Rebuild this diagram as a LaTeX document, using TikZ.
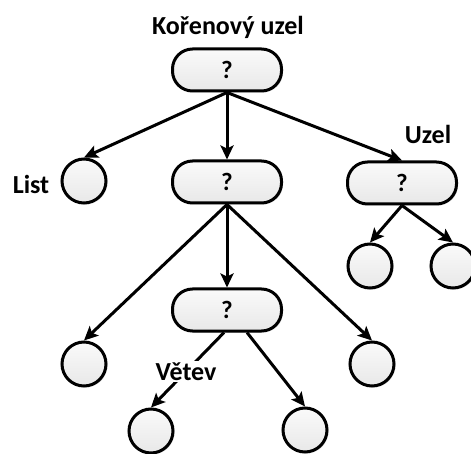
\documentclass[tikz,border=0pt]{standalone}
\usepackage{fontspec}
\setmainfont{Carlito}
\usetikzlibrary{arrows.meta,shadows}
\begin{document}
\begin{tikzpicture}[x=1pt,y=-1pt,
  qnode/.style={draw, line width=3pt, rectangle, rounded corners=20pt,
    minimum width=109pt, minimum height=42pt, inner sep=0pt,
    top color=gray!4, bottom color=gray!18,
    drop shadow={opacity=0.25, shadow xshift=1.5pt, shadow yshift=-1.5pt},
    font=\fontsize{25}{29}\selectfont\bfseries},
  leaf/.style={draw, line width=3pt, circle, minimum size=44pt, inner sep=0pt,
    top color=gray!4, bottom color=gray!18,
    drop shadow={opacity=0.25, shadow xshift=1.5pt, shadow yshift=-1.5pt}},
  lbl/.style={font=\fontsize{26}{30}\selectfont\bfseries, inner sep=1pt},
  conn/.style={line width=3pt, -{Stealth[length=14pt,width=13pt,inset=3pt]}}
]
\useasboundingbox (0,0) rectangle (471,454);
\node[qnode] (root) at (227,70) {?};
\node[qnode] (mid) at (227,182) {?};
\node[qnode] (uzel) at (402,183) {?};
\node[qnode] (third) at (227,310) {?};
\node[leaf] (list) at (84,181) {};
\node[leaf] (cL) at (84,364) {};
\node[leaf] (cR) at (372,364) {};
\node[leaf] (bL) at (151,431) {};
\node[leaf] (bR) at (305,430) {};
\node[leaf] (uL) at (370,266) {};
\node[leaf] (uR) at (453,266) {};
\node[lbl] (tRoot) at (228,27) {Kořenový uzel};
\node[lbl] (tList) at (31,184) {List};
\node[lbl] (tUzel) at (428,134) {Uzel};
\draw[conn] (root.south) -- (list.north);
\draw[conn] (root.south) -- (mid.north);
\draw[conn] (root.south) -- (uzel.north);
\draw[conn] (mid.south) -- (cL.north);
\draw[conn] (mid.south) -- (third.north);
\draw[conn] (mid.south) -- (cR.north);
\draw[conn] (uzel.south) -- (uL.north);
\draw[conn] (uzel.south) -- (uR.north);
\draw[conn] ([xshift=-3pt]third.south) -- node[lbl, fill=white, inner sep=2pt, pos=0.52] (tVetev) {Větev} (bL.north);
\draw[conn] ([xshift=20pt]third.south) -- (bR.north);
\end{tikzpicture}
\end{document}
